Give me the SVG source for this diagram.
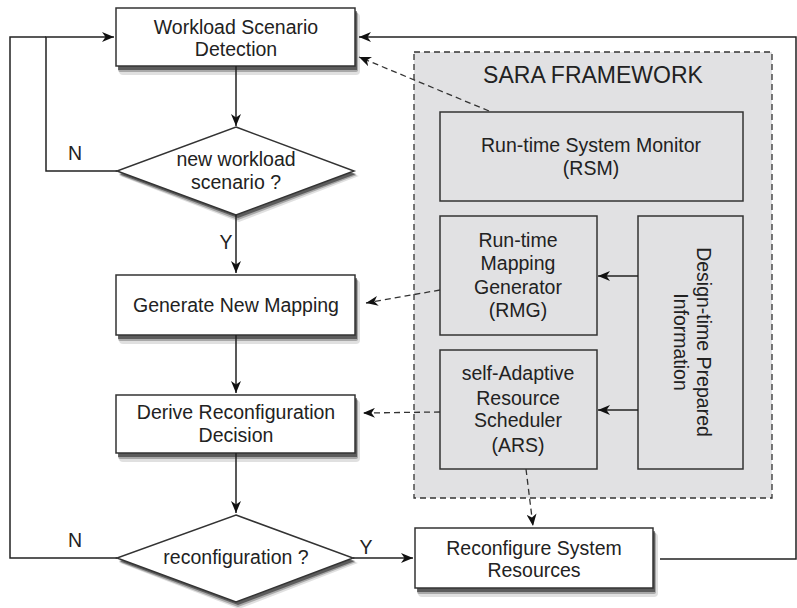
<svg xmlns="http://www.w3.org/2000/svg" width="797" height="608" viewBox="0 0 797 608">
<defs>
<marker id="ah" viewBox="0 0 12 10" refX="12" refY="5" markerWidth="12" markerHeight="10" markerUnits="userSpaceOnUse" orient="auto">
<path d="M0,0 L12,5 L0,10 L3.5,5 z" fill="#111"/>
</marker>
<style>
text{font-family:"Liberation Sans",Arial,sans-serif;fill:#222;text-anchor:middle}
.t{font-size:19.5px}
.w{fill:#fff;stroke:#333;stroke-width:1.5}
.g{fill:#e1e1e3;stroke:#333;stroke-width:1.5}
.c{fill:none;stroke:#222;stroke-width:1.5}
.d{fill:none;stroke:#333;stroke-width:1.3;stroke-dasharray:6 4}
.s1{fill:#000;opacity:0.12}
.s2{fill:#000;opacity:0.25}
.s3{fill:#000;opacity:0.45}
</style>
</defs>
<g id="sara">
<rect x="414" y="52" width="358" height="446" fill="#e1e1e3" stroke="#333" stroke-width="1.3" stroke-dasharray="6 4"/>
<text x="593" y="83" style="font-size:23px">SARA FRAMEWORK</text>
</g>
<g id="rsm">
<rect class="g" x="440" y="112" width="303" height="89"/>
<text class="t" x="591" y="152">Run-time System Monitor</text>
<text class="t" x="591" y="175">(RSM)</text>
</g>
<g id="rmg">
<rect class="g" x="440" y="216" width="157" height="119"/>
<text class="t" x="518" y="247">Run-time</text>
<text class="t" x="518" y="270">Mapping</text>
<text class="t" x="518" y="294">Generator</text>
<text class="t" x="518" y="317">(RMG)</text>
</g>
<g id="ars">
<rect class="g" x="440" y="350" width="157" height="119"/>
<text class="t" x="518" y="380">self-Adaptive</text>
<text class="t" x="518" y="405">Resource</text>
<text class="t" x="518" y="427">Scheduler</text>
<text class="t" x="518" y="452">(ARS)</text>
</g>
<g id="design">
<rect class="g" x="638" y="216" width="105" height="253"/>
<text class="t" transform="translate(690.5,342) rotate(90)" x="0" y="-6">Design-time Prepared</text>
<text class="t" transform="translate(690.5,342) rotate(90)" x="0" y="17">Information</text>
</g>
<g id="wsd">
<rect class="s1" x="119" y="13" width="241" height="62" rx="4"/>
<rect class="s2" x="118" y="12" width="240" height="60" rx="2"/>
<rect class="s3" x="118" y="11" width="239" height="59"/>
<rect class="w" x="116" y="8" width="239" height="58"/>
<text class="t" x="236" y="34">Workload Scenario</text>
<text class="t" x="236" y="56">Detection</text>
</g>
<g id="d1">
<polygon class="s1" points="239,132 359,176 239,222 120,176"/>
<polygon class="s2" points="238,131 357,175 238,220 119,175"/>
<polygon class="s3" points="238,130 356,174 238,218 119,174"/>
<polygon class="w" points="236,127 354,171 236,215 117,171"/>
<text class="t" x="236" y="166">new workload</text>
<text class="t" x="236" y="189">scenario ?</text>
</g>
<g id="gnm">
<rect class="s1" x="119" y="280" width="241" height="64" rx="4"/>
<rect class="s2" x="118" y="279" width="240" height="62" rx="2"/>
<rect class="s3" x="118" y="278" width="239" height="61"/>
<rect class="w" x="116" y="275" width="239" height="60"/>
<text class="t" x="236" y="312">Generate New Mapping</text>
</g>
<g id="drd">
<rect class="s1" x="119" y="400" width="241" height="62" rx="4"/>
<rect class="s2" x="118" y="399" width="240" height="60" rx="2"/>
<rect class="s3" x="118" y="398" width="239" height="59"/>
<rect class="w" x="116" y="395" width="239" height="58"/>
<text class="t" x="236" y="419">Derive Reconfiguration</text>
<text class="t" x="236" y="442">Decision</text>
</g>
<g id="d2">
<polygon class="s1" points="239,520 358,563 239,609 120,563"/>
<polygon class="s2" points="238,519 356,562 238,607 119,562"/>
<polygon class="s3" points="238,518 355,561 238,605 119,561"/>
<polygon class="w" points="236,515 353,558 236,602 117,558"/>
<text class="t" x="236" y="564">reconfiguration ?</text>
</g>
<g id="rsr">
<rect class="s1" x="418" y="533" width="240" height="64" rx="4"/>
<rect class="s2" x="417" y="532" width="239" height="62" rx="2"/>
<rect class="s3" x="417" y="531" width="238" height="61"/>
<rect class="w" x="415" y="528" width="238" height="60"/>
<text class="t" x="534" y="555">Reconfigure System</text>
<text class="t" x="534" y="577">Resources</text>
</g>
<g id="connectors">
<path class="c" d="M236,66 V126" marker-end="url(#ah)"/>
<path class="c" d="M236,215 V273" marker-end="url(#ah)"/>
<path class="c" d="M236,335 V393" marker-end="url(#ah)"/>
<path class="c" d="M236,453 V513" marker-end="url(#ah)"/>
<path class="c" d="M117,171 H46 V37 H114" marker-end="url(#ah)"/>
<path class="c" d="M117,558 H10 V37 H46"/>
<path class="c" d="M353,558 H413" marker-end="url(#ah)"/>
<path class="c" d="M660,559 H796 V37 H359" marker-end="url(#ah)"/>
<path class="c" d="M638,276 H598" marker-end="url(#ah)"/>
<path class="c" d="M638,410 H598" marker-end="url(#ah)"/>
<path class="d" d="M489,111 L359,57" marker-end="url(#ah)"/>
<path class="d" d="M440,290 L366,303" marker-end="url(#ah)"/>
<path class="d" d="M440,412 L363,413" marker-end="url(#ah)"/>
<path class="d" d="M526,469 L533,526" marker-end="url(#ah)"/>
<text class="t" x="75" y="160">N</text>
<text class="t" x="226" y="249">Y</text>
<text class="t" x="75" y="547">N</text>
<text class="t" x="366" y="554">Y</text>
</g>
</svg>
